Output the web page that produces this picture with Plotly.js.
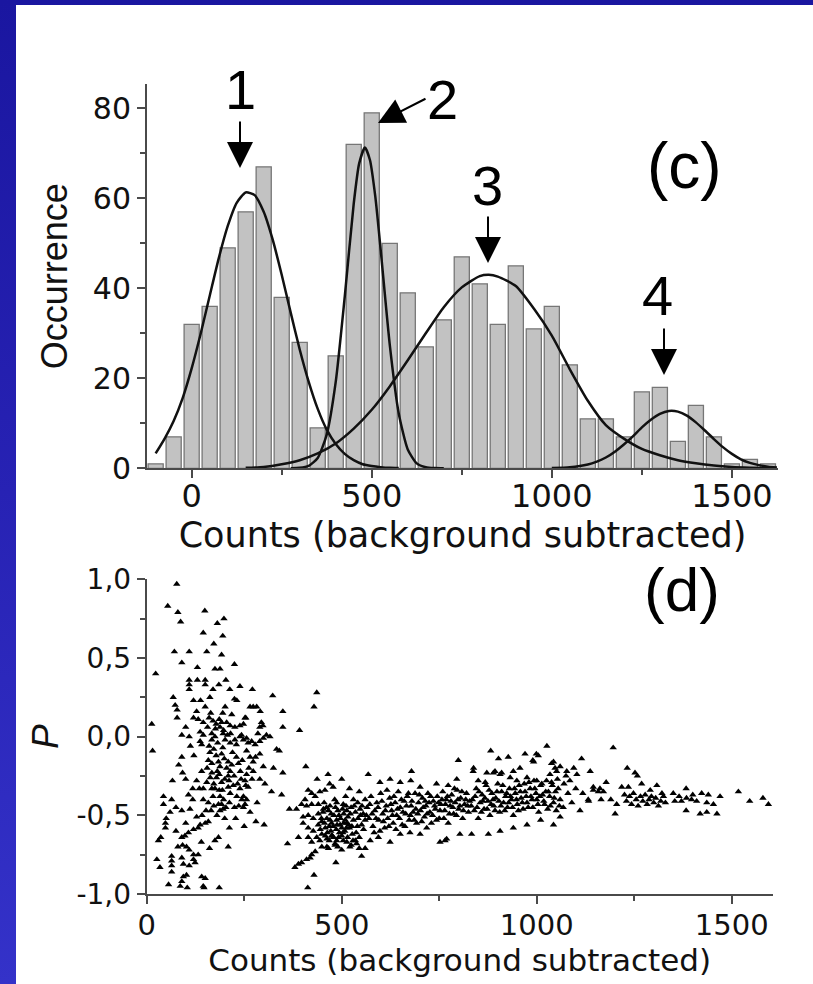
<!DOCTYPE html>
<html><head><meta charset="utf-8">
<script src="https://cdn.plot.ly/plotly-3.0.1.min.js"></script>
<style>
html,body{margin:0;padding:0;width:813px;height:984px;overflow:hidden;}
body{background:linear-gradient(180deg,#1a16a0 0%,#2722b4 50%,#3432c9 100%);}
#panel{position:absolute;left:16px;top:5px;width:797px;height:979px;background:#fff;}
#chart{position:absolute;left:0;top:0;width:813px;height:984px;}
</style></head>
<body><div id="panel"></div><div id="chart"></div>
<script>
// ---------- histogram (c) ----------
const binCenters = [-100,-50,0,50,100,150,200,250,300,350,400,450,500,550,600,650,700,750,800,850,900,950,1000,1050,1100,1150,1200,1250,1300,1350,1400,1450,1500,1550,1600];
const binCounts  = [1,7,32,36,49,57,67,38,28,9,25,72,79,50,39,27,33,47,41,32,45,31,36,23,11,11,7,17,18,6,14,7,1,2,1];

// fitted peaks
const fit1X = [-100,-75,-50,-25,0,25,50,75,100,125,150,175,200,225,250,275,300,325,350,375,400,425,450,475,500,525,550,575];
const fit1Y = [3.3,6.6,10.5,15.6,22.2,29.9,38.3,46.6,53.8,59.0,61.3,60.7,57.0,50.8,43.0,34.6,26.4,19.2,13.2,8.6,5.4,3.2,1.8,0.9,0.5,0.25,0.1,0.05];
const fit2X = [275,300,325,350,375,400,425,450,465,481,495,510,525,550,575,600,625,650,675,700];
const fit2Y = [0.02,0.1,0.55,2.3,7.5,19.2,38.1,58.8,67.7,71.3,68.5,60.3,48.4,27.5,12.2,4.2,1.1,0.24,0.04,0.0];
const fit3X = [150,200,250,300,350,400,450,500,550,600,650,700,750,800,825,850,900,950,1000,1050,1100,1150,1200,1250,1300,1350,1400,1450,1500,1550,1600];
const fit3Y = [0.1,0.3,0.9,1.8,3.3,5.5,8.8,13.0,18.2,24.0,30.0,35.8,40.2,42.7,43.0,42.6,40.5,35.5,29.5,22.0,15.0,9.6,6.6,4.3,2.9,1.8,1.1,0.6,0.3,0.15,0.05];
const fit4X = [1000,1050,1100,1125,1150,1175,1200,1225,1250,1275,1300,1325,1350,1375,1400,1425,1450,1475,1500,1525,1550,1575,1600,1625];
const fit4Y = [0.05,0.23,0.85,1.5,2.4,3.7,5.3,7.1,9.1,10.8,12.1,12.75,12.6,11.7,10.2,8.4,6.5,4.7,3.2,2.0,1.2,0.7,0.36,0.18];

// ---------- scatter (d): [counts, P] ----------
const pointsLow = [
[77,0.97],[54,0.83],[80,0.79],[149,0.80],[87,0.73],[181,0.72],[198,0.75],[145,0.66],[195,0.64],[172,0.59],
[71,0.54],[109,0.54],[154,0.54],[192,0.52],[90,0.47],[130,0.44],[175,0.43],[188,0.43],[225,0.46],[23,0.40],
[109,0.36],[109,0.33],[109,0.30],[150,0.36],[150,0.33],[185,0.33],[203,0.36],[213,0.30],[239,0.32],
[68,0.25],[73,0.20],[78,0.17],[78,0.12],[120,0.23],[138,0.23],[162,0.25],[225,0.24],[231,0.23],[201,0.19],[195,0.15],
[164,0.15],[120,0.12],[132,0.11],[145,0.09],[186,0.11],[192,0.09],[188,0.06],[214,0.07],[226,0.06],[239,0.07],[254,0.12],
[13,0.08],[90,0.01],[109,0.00],[137,0.03],[145,0.01],[137,-0.03],[167,0.02],[175,0.00],[167,-0.02],[197,0.04],[207,0.01],[201,-0.02],[214,-0.04],
[239,0.00],[248,-0.02],[260,-0.04],[141,-0.05],[15,-0.09],[121,-0.12],[162,-0.10],[192,-0.11],[90,-0.13],
[158,-0.15],[167,-0.17],[184,-0.16],[188,-0.19],[209,-0.16],[141,-0.22],[167,-0.23],[181,-0.22],[214,-0.22],[209,-0.25],[235,-0.17],
[92,-0.23],[179,-0.26],[66,-0.28],[128,-0.28],[154,-0.29],[192,-0.29],[209,-0.32],[222,-0.31],[239,-0.33],[254,-0.31],
[135,-0.33],[145,-0.33],[167,-0.33],[175,-0.33],[188,-0.38],[197,-0.40],[192,-0.43],[203,-0.45],[188,-0.47],
[214,-0.36],[231,-0.38],[244,-0.40],[252,-0.43],[107,-0.37],[145,-0.40],[43,-0.38],[64,-0.40],[75,-0.45],[90,-0.47],[111,-0.46],[43,-0.43],
[50,-0.52],[48,-0.55],[48,-0.58],[128,-0.51],[137,-0.56],[150,-0.55],[158,-0.54],[132,-0.58],[212,-0.58],[250,-0.57],
[36,-0.64],[30,-0.66],[90,-0.64],[98,-0.63],[107,-0.61],[92,-0.69],[102,-0.70],[109,-0.72],
[120,-0.75],[132,-0.75],[120,-0.78],[124,-0.80],[109,-0.82],[184,-0.64],[175,-0.66],[161,-0.71],[209,-0.70],
[26,-0.78],[34,-0.83],[64,-0.76],[64,-0.79],[64,-0.82],[90,-0.77],[94,-0.81],
[64,-0.86],[56,-0.94],[90,-0.92],[94,-0.89],[102,-0.88],[86,-0.95],[104,-0.96],[145,-0.95],[147,-0.96],[186,-0.96],[141,-0.89],[150,-0.90],
[160,-0.06],[172,-0.08],[182,-0.04],[195,-0.07],[220,-0.10],[230,-0.05],[176,0.05],[156,0.06],[205,0.09],[218,0.14],[170,0.10],[128,0.16],
[150,0.19],[230,-0.13],[245,-0.15],[200,-0.27],[186,-0.34],[170,-0.38],[158,-0.42],[212,-0.42],[225,-0.45],[180,-0.50],[200,-0.52],[165,-0.47],
[118,-0.33],[100,-0.27],[82,-0.18],[112,-0.06],[100,0.06],[60,-0.48],[120,-0.59],[100,-0.55],[140,-0.67],[80,-0.70],[75,-0.60],[265,-0.48],
[228,-0.52],[283,-0.42],[270,-0.27],[240,-0.22],
[155,-0.20],[163,-0.26],[172,-0.30],[178,-0.12],[186,-0.24],[194,-0.34],[199,-0.14],[205,-0.20],[211,-0.28],[218,-0.18],
[224,-0.25],[233,-0.30],[242,-0.27],[196,0.02],[178,0.08],[160,0.12],[215,0.02],[226,-0.02],[184,-0.43],[196,-0.46],
[172,-0.44],[152,-0.47],[142,-0.50],[118,-0.40],[236,-0.44],[262,-0.20],[279,-0.13],[285,0.02],[170,0.30],[130,0.36],
[271,0.30],[323,0.26],[436,0.28],[429,0.19],[265,0.19],[273,0.19],[282,0.19],[291,0.16],[349,0.16],[252,0.12],[248,0.08],
[294,0.09],[298,0.07],[290,0.06],[349,0.06],[392,0.04],[243,0.01],[256,-0.01],[269,-0.03],[278,-0.05],[290,-0.03],[299,-0.01],[307,0.01],[316,0.00],
[333,-0.08],[340,-0.09],[256,-0.09],[265,-0.13],[273,-0.16],[290,-0.11],[299,-0.19],[325,-0.20],[349,-0.23],[408,-0.19],
[256,-0.24],[252,-0.28],[260,-0.32],[248,-0.38],[256,-0.40],[273,-0.22],[290,-0.27],[303,-0.30],[320,-0.35],[346,-0.37],[248,-0.45],
[280,-0.54],[301,-0.56]
];
const pointsCluster = [
[361,-0.68],[389,-0.64],[366,-0.46],[384,-0.46],[389,-0.81],[380,-0.83],[397,-0.80],[410,-0.78],[419,-0.77],[423,-0.75],[432,-0.73],
[429,-0.88],[413,-0.96],[485,-0.80],[551,-0.76],
[437,-0.27],[465,-0.24],[500,-0.27],[469,-0.30],[414,-0.34],[423,-0.36],[432,-0.38],[444,-0.35],[457,-0.34],[478,-0.32],
[406,-0.40],[397,-0.43],[410,-0.44],[423,-0.43],[440,-0.43],[453,-0.46],[470,-0.44],[487,-0.42],[504,-0.43],[513,-0.47],
[401,-0.51],[414,-0.50],[427,-0.52],[440,-0.49],[401,-0.55],[414,-0.58],[427,-0.60],[440,-0.56],[449,-0.54],
[462,-0.52],[474,-0.55],[487,-0.53],[500,-0.58],[513,-0.55],
[414,-0.64],[423,-0.67],[436,-0.64],[449,-0.62],[462,-0.65],[474,-0.63],[487,-0.66],[500,-0.63],[513,-0.67],
[449,-0.70],[466,-0.71],[483,-0.69],[500,-0.72],
[452,-0.48],[458,-0.58],[466,-0.47],[472,-0.60],[480,-0.50],[478,-0.57],[490,-0.47],[494,-0.61],[497,-0.52],[505,-0.49],
[508,-0.60],[516,-0.51],[520,-0.58],[524,-0.45],[527,-0.62],[530,-0.53],[535,-0.48],[540,-0.57],[545,-0.64],[548,-0.50],
[552,-0.44],[556,-0.59],[560,-0.53],[488,-0.56],[470,-0.53],[445,-0.59],[455,-0.42],[482,-0.40],[510,-0.38],[530,-0.40],
[545,-0.35],[520,-0.33],[560,-0.40],[492,-0.64],[515,-0.64],[535,-0.66],[505,-0.55],[463,-0.61],[524,-0.69],[545,-0.71],
[444,-0.66],[462,-0.70],[483,-0.68],[504,-0.66],[521,-0.70],[538,-0.68],[560,-0.71],
[448,-0.52],[456,-0.55],[461,-0.45],[468,-0.57],[473,-0.49],[476,-0.63],[484,-0.45],[486,-0.59],[493,-0.50],[496,-0.56],
[502,-0.46],[503,-0.61],[509,-0.53],[511,-0.44],[518,-0.56],[522,-0.49],[526,-0.57],[532,-0.44],[537,-0.61],[542,-0.52],
[547,-0.46],[551,-0.56],[555,-0.49],[458,-0.63],[468,-0.66],[479,-0.64],[490,-0.70],[512,-0.58],[529,-0.66],[541,-0.42]
];
const pointsBand = [
[568,-0.24],[598,-0.29],[624,-0.27],[650,-0.29],[679,-0.22],[677,-0.28],[701,-0.32],[743,-0.30],[773,-0.31],[795,-0.27],[799,-0.15],
[573,-0.66],[594,-0.64],[624,-0.67],[650,-0.62],[675,-0.61],[701,-0.62],[718,-0.58],[752,-0.67],[769,-0.65],[803,-0.62],
[565,-0.45],[570,-0.52],[575,-0.38],[580,-0.57],[585,-0.47],[590,-0.42],[595,-0.53],[600,-0.36],[605,-0.49],[610,-0.58],
[614,-0.44],[618,-0.52],[623,-0.39],[628,-0.47],[632,-0.55],[637,-0.42],[641,-0.50],[645,-0.35],[650,-0.45],[655,-0.56],
[660,-0.41],[664,-0.49],[668,-0.38],[673,-0.53],[678,-0.44],[683,-0.48],[688,-0.36],[692,-0.55],[697,-0.42],[702,-0.47],
[707,-0.39],[712,-0.51],[716,-0.44],[721,-0.36],[726,-0.48],[730,-0.55],[735,-0.41],[740,-0.46],[745,-0.38],[750,-0.52],
[754,-0.43],[759,-0.35],[764,-0.47],[768,-0.40],[773,-0.55],[778,-0.44],[782,-0.37],[787,-0.49],[791,-0.42],[796,-0.34],
[800,-0.46],[805,-0.39],[810,-0.52],[815,-0.43],[820,-0.36],[825,-0.48],[828,-0.41],
[563,-0.50],[572,-0.43],[578,-0.49],[583,-0.61],[588,-0.52],[593,-0.45],[598,-0.60],[603,-0.41],[607,-0.54],[612,-0.47],
[616,-0.34],[621,-0.57],[626,-0.43],[630,-0.50],[634,-0.38],[639,-0.59],[643,-0.46],[648,-0.52],[653,-0.40],[657,-0.48],
[662,-0.57],[666,-0.44],[671,-0.36],[676,-0.50],[680,-0.41],[686,-0.53],[690,-0.46],[695,-0.49],[699,-0.37],[705,-0.54],
[709,-0.45],[714,-0.41],[719,-0.49],[724,-0.42],[728,-0.38],[733,-0.50],[738,-0.44],[743,-0.53],[748,-0.42],[752,-0.47],
[757,-0.40],[762,-0.52],[766,-0.43],[771,-0.38],[776,-0.49],[780,-0.41],[785,-0.45],[789,-0.33],[794,-0.50],[798,-0.40],
[803,-0.44],[808,-0.35],[812,-0.47],[818,-0.40],[823,-0.44],
[837,-0.22],[850,-0.28],[868,-0.29],[882,-0.09],[902,-0.14],[927,-0.13],[889,-0.23],[910,-0.23],[940,-0.22],[957,-0.20],
[970,-0.11],[992,-0.16],[1004,-0.12],[1026,-0.06],[1043,-0.16],[949,-0.28],[975,-0.26],[1000,-0.28],[1034,-0.24],[1051,-0.22],
[999,-0.11],[990,-0.15],[1038,-0.17],[1047,-0.20],[1060,-0.19],[1095,-0.20],[1103,-0.24],[1077,-0.22],[838,-0.20],
[872,-0.23],[893,-0.22],[906,-0.24],[932,-0.26],
[833,-0.62],[876,-0.62],[906,-0.60],[940,-0.58],[975,-0.56],[1010,-0.53],[1043,-0.56],[1060,-0.51],[765,-0.66],
[835,-0.40],[840,-0.47],[845,-0.33],[850,-0.52],[855,-0.42],[860,-0.37],[865,-0.46],[870,-0.31],[875,-0.41],[880,-0.50],
[885,-0.36],[890,-0.44],[895,-0.39],[900,-0.30],[905,-0.48],[910,-0.35],[915,-0.42],[920,-0.38],[925,-0.45],[930,-0.33],
[935,-0.40],[940,-0.50],[945,-0.36],[950,-0.43],[955,-0.31],[960,-0.39],[965,-0.46],[970,-0.35],[975,-0.42],[980,-0.29],
[985,-0.38],[990,-0.45],[995,-0.33],[1000,-0.40],[1005,-0.48],[1010,-0.31],[1015,-0.37],[1020,-0.43],[1025,-0.28],[1030,-0.35],
[1035,-0.44],[1040,-0.31],[1045,-0.39],[1050,-0.47],[1055,-0.33],[1060,-0.40],
[832,-0.44],[842,-0.38],[847,-0.45],[852,-0.35],[858,-0.48],[862,-0.41],[867,-0.39],[873,-0.46],[878,-0.34],[883,-0.43],
[888,-0.40],[893,-0.47],[898,-0.35],[903,-0.41],[908,-0.44],[913,-0.31],[918,-0.47],[923,-0.36],[928,-0.42],[933,-0.38],
[938,-0.45],[943,-0.33],[948,-0.40],[953,-0.47],[958,-0.35],[963,-0.42],[968,-0.30],[973,-0.38],[978,-0.45],[983,-0.33],
[988,-0.40],[993,-0.28],[998,-0.36],[1003,-0.43],[1008,-0.38],[1013,-0.30],[1018,-0.41],[1023,-0.35],[1028,-0.46],[1033,-0.38],
[1038,-0.29],[1043,-0.42],[1048,-0.35],[1053,-0.27],[1058,-0.44]
];
const pointsHigh = [
[1070,-0.30],[1080,-0.36],[1090,-0.42],[1085,-0.28],[1100,-0.33],[1068,-0.45],[1075,-0.25],
[1115,-0.14],[1137,-0.22],[1196,-0.07],[1232,-0.20],[1252,-0.23],[1258,-0.25],[1178,-0.29],[1145,-0.34],[1158,-0.35],[1171,-0.35],
[1218,-0.32],[1235,-0.32],[1269,-0.30],[1291,-0.34],[1308,-0.31],[1321,-0.36],[1118,-0.36],[1133,-0.41],[1165,-0.40],[1190,-0.40],
[1205,-0.43],[1111,-0.47],[1201,-0.49],[1132,-0.40],[1145,-0.32],[1162,-0.33],
[1225,-0.37],[1230,-0.41],[1238,-0.38],[1243,-0.43],[1248,-0.36],[1255,-0.40],[1260,-0.44],[1266,-0.38],[1272,-0.41],[1278,-0.37],
[1283,-0.43],[1288,-0.40],[1294,-0.38],[1300,-0.42],[1305,-0.39],[1312,-0.44],[1318,-0.41],[1325,-0.38],[1330,-0.42],
[1354,-0.41],[1371,-0.41],[1384,-0.39],[1397,-0.40],[1410,-0.41],[1423,-0.36],[1436,-0.42],[1453,-0.43],[1383,-0.33],[1383,-0.47],
[1419,-0.49],[1436,-0.48],[1462,-0.49],[1470,-0.38],[1517,-0.35],[1546,-0.41],[1580,-0.39],[1594,-0.43],
[1350,-0.36],[1365,-0.38],[1400,-0.37],[1440,-0.37]
];

const xTicksCounts = [0,500,1000,1500];
const yTicksOcc = [0,20,40,60,80];
const yTicksP = [-1,-0.5,0,0.5,1];
const yTickTextP = ['-1,0','-0,5','0,0','0,5','1,0'];

// ---------- helpers ----------
const W = 813, H = 984;
const px = v => v / W;
const py = v => 1 - v / H;
const ARIAL = 'Liberation Sans, Arial, Helvetica, sans-serif';
const WIDE = 'DejaVu Sans, Verdana, sans-serif';
const AX = '#4a4a4a';

const allPts = pointsLow.concat(pointsCluster, pointsBand, pointsHigh);

const fitLine = {color:'#111', width:2.5, shape:'spline', smoothing:0.6};
const traces = [
  {type:'bar', x:binCenters, y:binCounts, width:42, xaxis:'x', yaxis:'y',
   marker:{color:'#c2c2c2', line:{color:'#767676', width:1.3}}},
  {type:'scatter', mode:'lines', x:fit1X, y:fit1Y, xaxis:'x', yaxis:'y', line:fitLine},
  {type:'scatter', mode:'lines', x:fit2X, y:fit2Y, xaxis:'x', yaxis:'y', line:fitLine},
  {type:'scatter', mode:'lines', x:fit3X, y:fit3Y, xaxis:'x', yaxis:'y', line:fitLine},
  {type:'scatter', mode:'lines', x:fit4X, y:fit4Y, xaxis:'x', yaxis:'y', line:fitLine},
  {type:'scatter', mode:'markers', x:allPts.map(p=>p[0]), y:allPts.map(p=>p[1]), xaxis:'x2', yaxis:'y2',
   cliponaxis:false, marker:{symbol:'triangle-up', size:6.5, color:'#000'}}
];

const axBase = {showline:true, linecolor:AX, linewidth:2, ticks:'outside', ticklen:8, tickwidth:2, tickcolor:AX,
  showgrid:false, zeroline:false, fixedrange:true};
const tf = s => ({family:WIDE, size:s, color:'#111'});
const minorX = {tickmode:'linear', tick0:0, dtick:250, ticks:'outside', ticklen:5, tickwidth:2, tickcolor:AX};

const annText = (t, x, y, size) => ({text:t, xref:'paper', yref:'paper', x:px(x), y:py(y), showarrow:false,
  font:{family:ARIAL, size:size, color:'#000'}, xanchor:'center', yanchor:'middle'});
const annArrow = (tipX, tipY, tailX, tailY) => ({text:'', xref:'paper', yref:'paper', x:px(tipX), y:py(tipY),
  ax:tailX - tipX, ay:tailY - tipY, showarrow:true, arrowhead:2, arrowsize:2.6, arrowwidth:2, arrowcolor:'#000', standoff:0});

const layout = {
  width:W, height:H, margin:{l:0,r:0,t:0,b:0},
  paper_bgcolor:'rgba(0,0,0,0)', plot_bgcolor:'rgba(0,0,0,0)',
  showlegend:false, hovermode:false, bargap:0,
  font:{family:ARIAL, color:'#111'},
  xaxis:Object.assign({}, axBase, {domain:[px(147), px(778)], range:[-124,1628], anchor:'y',
    tickmode:'array', tickvals:xTicksCounts, minor:minorX, tickfont:tf(32), ticklabelstandoff:-10,
    title:{text:'Counts (background subtracted)', font:{family:WIDE, size:35, color:'#111'}, standoff:0}}),
  yaxis:Object.assign({}, axBase, {domain:[py(468.3), py(84)], range:[0,85.4], anchor:'x',
    tickmode:'array', tickvals:yTicksOcc, tickfont:tf(30),
    minor:{tickmode:'linear', tick0:0, dtick:10, ticks:'outside', ticklen:5, tickwidth:2, tickcolor:AX},
    title:{text:'Occurrence', font:{family:ARIAL, size:36, color:'#111'}, standoff:14}}),
  xaxis2:Object.assign({}, axBase, {domain:[px(146.7), px(772.7)], range:[0,1605], anchor:'y2',
    tickmode:'array', tickvals:xTicksCounts, minor:minorX, tickfont:tf(29), ticklabelstandoff:-4,
    title:{text:'Counts (background subtracted)', font:{family:WIDE, size:31, color:'#111'}, standoff:2}}),
  yaxis2:Object.assign({}, axBase, {domain:[py(894), py(579.3)], range:[-1,1], anchor:'x2',
    tickmode:'array', tickvals:yTicksP, ticktext:yTickTextP, tickfont:tf(28),
    minor:{tickmode:'linear', tick0:-1, dtick:0.25, ticks:'outside', ticklen:5, tickwidth:2, tickcolor:AX},
    title:{text:'<i>P</i>', font:{family:ARIAL, size:37, color:'#111'}, standoff:6}}),
  annotations:[
    annText('1', 240, 89, 56), annArrow(240, 168, 240, 120),
    annText('2', 443, 100, 56), annArrow(378, 123, 427, 98),
    annText('3', 487, 186, 56), annArrow(488, 263, 488, 215),
    annText('4', 657, 295, 56), annArrow(664, 375, 664, 327),
    annText('(c)', 684, 166, 64),
    annText('(d)', 682, 589, 62)
  ]
};

Plotly.newPlot('chart', traces, layout, {staticPlot:true, displayModeBar:false});
</script></body></html>
